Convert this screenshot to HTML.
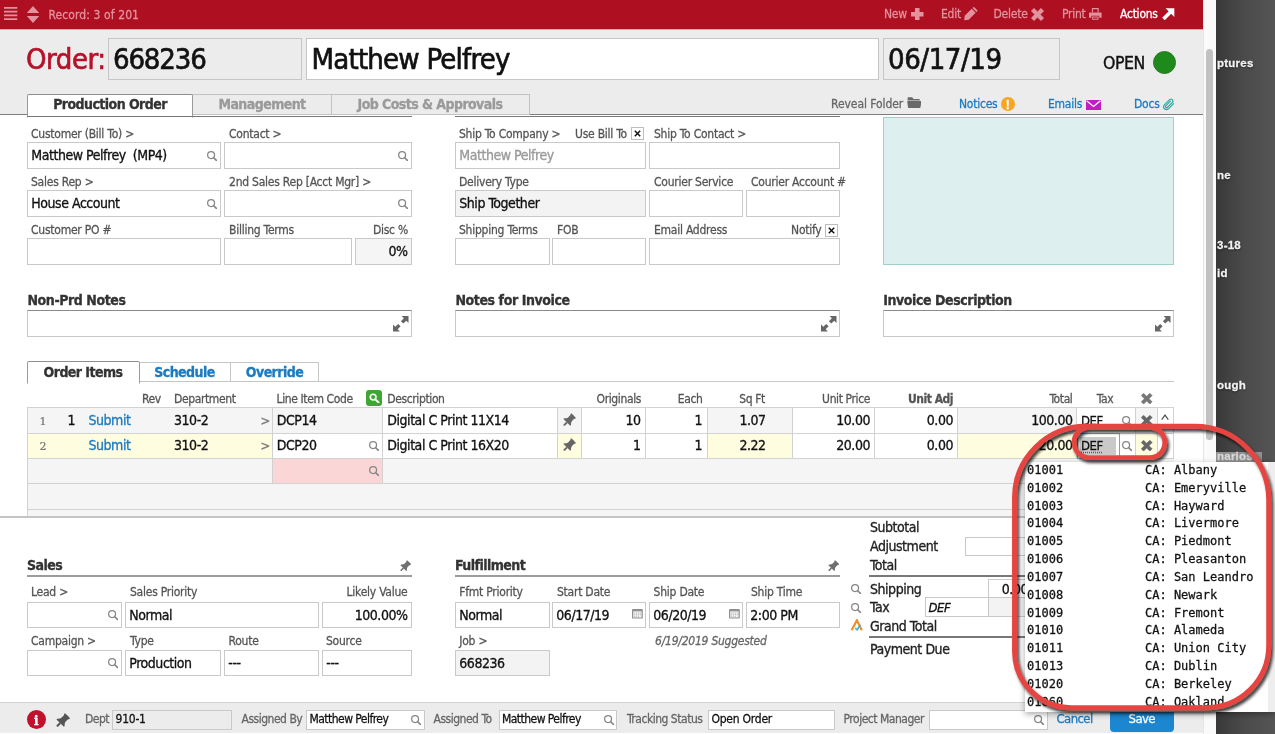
<!DOCTYPE html>
<html><head><meta charset="utf-8"><title>Order 668236</title>
<style>
html,body{margin:0;padding:0;background:#fff;}
body{width:1275px;height:734px;position:relative;overflow:hidden;font-family:"DejaVu Sans Condensed","Liberation Sans","DejaVu Sans",sans-serif;letter-spacing:-0.028em;}
.t{position:absolute;line-height:1;white-space:nowrap;-webkit-text-stroke:0.022em currentColor;}
.b{position:absolute;border:1px solid #c9c9c9;}
.r{position:absolute;}
.i{position:absolute;display:block;}
</style></head><body>
<div class="r" style="left:0px;top:0px;width:1203px;height:734px;background:#fff;"></div>
<div class="r" style="left:0px;top:0px;width:1203px;height:29px;background:#ae1022;"></div>
<svg class="i" style="left:4px;top:7px;" width="14" height="14" viewBox="0 0 14 14"><path d="M0 0.9H13.3M0 4.65H13.3M0 8.4H13.3M0 12.15H13.3" stroke="#e3939e" stroke-width="1.8"/></svg>
<svg class="i" style="left:26px;top:6px;" width="14" height="17" viewBox="0 0 14 17"><path d="M7 0 L13.2 7 H0.8 Z M7 17 L13.2 10 H0.8 Z" fill="#e3939e"/></svg>
<div class="t" style="left:48.5px;top:9px;font-size:12px;color:#e3939e;letter-spacing:0.008em;">Record: 3 of 201</div>
<div class="t" style="left:884px;top:8px;font-size:12px;color:#e3939e;letter-spacing:-0.02em;">New</div>
<svg class="i" style="left:911px;top:7.5px;" width="12.5" height="12.5" viewBox="0 0 12 12"><path d="M3.8 0H8.2V3.8H12V8.2H8.2V12H3.8V8.2H0V3.8H3.8Z" fill="#e3939e"/></svg>
<div class="t" style="left:941px;top:8px;font-size:12px;color:#e3939e;letter-spacing:-0.02em;">Edit</div>
<svg class="i" style="left:964px;top:7px;" width="13.5" height="13.5" viewBox="0 0 13 13"><path d="M0.2 12.8 L0.7 8.5 L7.4 1.8 L11.2 5.6 L4.5 12.3 Z M8.2 1 L9 0.2 Q9.6 -0.2 10.2 0.4 L12.6 2.8 Q13.2 3.4 12.8 4 L12 4.8 Z" fill="#e3939e"/></svg>
<div class="t" style="left:993.5px;top:8px;font-size:12px;color:#e3939e;letter-spacing:-0.02em;">Delete</div>
<svg class="i" style="left:1030.5px;top:7.5px;" width="13" height="13" viewBox="0 0 12 12"><path d="M2.8 0.2 L6 3.4 L9.2 0.2 L11.8 2.8 L8.6 6 L11.8 9.2 L9.2 11.8 L6 8.6 L2.8 11.8 L0.2 9.2 L3.4 6 L0.2 2.8 Z" fill="#e3939e" stroke="#e3939e" stroke-width="0.4" stroke-linejoin="round"/></svg>
<div class="t" style="left:1062px;top:8px;font-size:12px;color:#e3939e;letter-spacing:-0.02em;">Print</div>
<svg class="i" style="left:1089.3px;top:7.8px;" width="12.6" height="11.8" viewBox="0 0 13 12"><g fill="#e3939e"><path d="M3 0H10V4.2H8.8V1.2H4.2V4.2H3Z"/><path d="M0.6 4.6H12.4Q13 4.6 13 5.2V10H10.6V8H2.4V10H0V5.2Q0 4.6 0.6 4.6Z"/><path d="M3.2 8.8H9.8V12H3.2Z M4.2 9.8V11H8.8V9.8Z" fill-rule="evenodd"/></g></svg>
<div class="t" style="left:1120px;top:8px;font-size:12px;color:#fff;letter-spacing:-0.02em;">Actions</div>
<svg class="i" style="left:1162px;top:7.5px;" width="12.5" height="12.5" viewBox="0 0 12 12"><g fill="#fff"><path d="M3.4 0.2 H11.8 V8.6 Z"/><path d="M7.4 2.2 L9.8 4.6 L2.6 11.8 L0.2 9.4 Z"/></g></svg>
<div class="r" style="left:0px;top:29px;width:1203px;height:85px;background:#ececec;"></div>
<div class="r" style="left:0px;top:29px;width:1203px;height:1px;background:#dfa3aa;"></div>
<div class="r" style="left:0px;top:114px;width:1203px;height:1px;background:#7c7c7c;"></div>
<div class="t" style="left:26px;top:45px;font-size:29px;color:#b5122a;">Order:</div>
<div class="b" style="left:108px;top:38px;width:192px;height:40px;background:#ececec;border-color:#c6c6c6;"></div>
<div class="t" style="left:113px;top:45px;font-size:29px;color:#111;letter-spacing:-0.04em;">668236</div>
<div class="b" style="left:306px;top:38px;width:571px;height:40px;background:#fff;border-color:#c6c6c6;"></div>
<div class="t" style="left:311.5px;top:45px;font-size:29px;color:#111;letter-spacing:-0.027em;">Matthew Pelfrey</div>
<div class="b" style="left:883px;top:38px;width:175px;height:40px;background:#ececec;border-color:#c6c6c6;"></div>
<div class="t" style="left:888px;top:45px;font-size:29px;color:#111;">06/17/19</div>
<div class="t" style="left:1103px;top:55px;font-size:17.5px;color:#111;">OPEN</div>
<div class="r" style="left:1153px;top:51px;width:21px;height:21px;border-radius:50%;background:#1f8a1c;border:1px solid #2a7a27"></div>
<div class="b" style="left:192px;top:94px;width:138px;height:19px;background:#ececec;border-color:#c2c2c2;"></div>
<div class="b" style="left:331px;top:94px;width:197px;height:19px;background:#ececec;border-color:#c2c2c2;"></div>
<div class="b" style="left:27px;top:94px;width:164px;height:22px;background:#fff;border-color:#8e8e8e #9a9a9a #fff #9a9a9a;border-radius:2px 2px 0 0"></div>
<div class="t" style="left:-40px;width:300px;text-align:center;top:97px;font-size:14px;color:#333;font-weight:bold;letter-spacing:-0.04em;">Production Order</div>
<div class="t" style="left:112px;width:300px;text-align:center;top:97px;font-size:14px;color:#9a9a9a;font-weight:bold;letter-spacing:-0.04em;">Management</div>
<div class="t" style="left:280px;width:300px;text-align:center;top:97px;font-size:14px;color:#9a9a9a;font-weight:bold;letter-spacing:-0.04em;">Job Costs &amp; Approvals</div>
<div class="t" style="left:831px;top:98px;font-size:12px;color:#666;letter-spacing:-0.005em;">Reveal Folder</div>
<svg class="i" style="left:906.6px;top:97.3px;" width="14.8" height="11.2" viewBox="0 0 14.8 11.2"><g fill="#6a6a6a"><path d="M0.6 0.9 Q0.6 0.3 1.2 0.3 H5.2 L6.6 1.9 H12.2 Q12.8 1.9 12.8 2.5 V3.6 H0.6 Z"/><path d="M0.2 4.1 H14.6 L13.4 10.4 Q13.3 11 12.7 11 H1.7 Q1.1 11 1 10.4 Z"/></g></svg>
<div class="t" style="left:959px;top:98px;font-size:12px;color:#1a7bc2;letter-spacing:-0.02em;">Notices</div>
<div class="r" style="left:1000.5px;top:97px;width:14px;height:14px;border-radius:50%;background:#f5a623"></div>
<div class="t" style="left:857.5px;width:300px;text-align:center;top:99px;font-size:12px;color:#fff;font-weight:bold;font-family:'Liberation Sans',sans-serif;">!</div>
<div class="t" style="left:1048px;top:98px;font-size:12px;color:#1a7bc2;letter-spacing:-0.02em;">Emails</div>
<svg class="i" style="left:1085.5px;top:99.5px;" width="15" height="10.5" viewBox="0 0 15 10.5"><rect width="15" height="10.5" fill="#c51bc5"/><path d="M0.6 0.8 L7.5 6.4 L14.4 0.8" fill="none" stroke="#fff" stroke-width="1.3"/></svg>
<div class="t" style="left:1134px;top:98px;font-size:12px;color:#1a7bc2;letter-spacing:-0.02em;">Docs</div>
<svg class="i" style="left:1162px;top:97.5px;" width="13" height="13" viewBox="0 0 13 13"><path d="M11.6 5.6 L6.4 10.8 Q4.4 12.6 2.4 10.8 Q0.6 8.8 2.4 6.8 L7.6 1.6 Q9 0.4 10.4 1.6 Q11.6 3 10.4 4.4 L5.4 9.4 Q4.6 10 3.8 9.4 Q3.2 8.6 3.8 7.8 L8.4 3.2" fill="none" stroke="#2aa9a0" stroke-width="1.2" stroke-linecap="round"/></svg>
<div class="r" style="left:27px;top:116px;width:385px;height:1px;background:#777;"></div>
<div class="r" style="left:455px;top:116px;width:385px;height:1px;background:#777;"></div>
<div class="t" style="left:31px;top:128px;font-size:12px;color:#555;letter-spacing:-0.02em;">Customer (Bill To) &gt;</div>
<div class="t" style="left:229px;top:128px;font-size:12px;color:#555;letter-spacing:-0.02em;">Contact &gt;</div>
<div class="t" style="left:459px;top:128px;font-size:12px;color:#555;letter-spacing:-0.02em;">Ship To Company &gt;</div>
<div class="t" style="left:575px;top:128px;font-size:12px;color:#555;letter-spacing:-0.02em;">Use Bill To</div>
<div class="b" style="left:631px;top:127px;width:10.5px;height:10.5px;background:#fff;border-color:#bdbdbd;"></div>
<svg class="i" style="left:633.5px;top:129.5px;" width="7" height="7" viewBox="0 0 7 7"><path d="M0.8 0.8 L6.2 6.2 M6.2 0.8 L0.8 6.2" stroke="#111" stroke-width="1.5"/></svg>
<div class="t" style="left:654px;top:128px;font-size:12px;color:#555;letter-spacing:-0.02em;">Ship To Contact &gt;</div>
<div class="b" style="left:27px;top:142px;width:192px;height:25px;background:#fff;border-color:#c9c9c9;"></div>
<div class="t" style="left:31.3px;top:148px;font-size:14px;color:#111;letter-spacing:-0.033em;white-space:pre;">Matthew Pelfrey  (MP4)</div>
<svg class="i" style="left:207.0px;top:150.70000000000002px;" width="10.4" height="10.4" viewBox="0 0 10.4 10.4"><circle cx="4.1" cy="4.1" r="3.45" fill="none" stroke="#858585" stroke-width="1.25"/><path d="M6.7 6.7 L9.4 9.4" stroke="#858585" stroke-width="1.6" stroke-linecap="round"/></svg>
<div class="b" style="left:224px;top:142px;width:186px;height:25px;background:#fff;border-color:#c9c9c9;"></div>
<svg class="i" style="left:398.0px;top:150.70000000000002px;" width="10.4" height="10.4" viewBox="0 0 10.4 10.4"><circle cx="4.1" cy="4.1" r="3.45" fill="none" stroke="#858585" stroke-width="1.25"/><path d="M6.7 6.7 L9.4 9.4" stroke="#858585" stroke-width="1.6" stroke-linecap="round"/></svg>
<div class="b" style="left:455px;top:142px;width:189px;height:25px;background:#fff;border-color:#c9c9c9;"></div>
<div class="t" style="left:459.3px;top:148px;font-size:14px;color:#9a9a9a;letter-spacing:-0.033em;white-space:pre;">Matthew Pelfrey</div>
<div class="b" style="left:649px;top:142px;width:189px;height:25px;background:#fff;border-color:#c9c9c9;"></div>
<div class="t" style="left:31px;top:176px;font-size:12px;color:#555;letter-spacing:-0.02em;">Sales Rep &gt;</div>
<div class="t" style="left:229px;top:176px;font-size:12px;color:#555;letter-spacing:-0.02em;">2nd Sales Rep [Acct Mgr] &gt;</div>
<div class="t" style="left:459px;top:176px;font-size:12px;color:#555;letter-spacing:-0.02em;">Delivery Type</div>
<div class="t" style="left:654px;top:176px;font-size:12px;color:#555;letter-spacing:-0.02em;">Courier Service</div>
<div class="t" style="left:751px;top:176px;font-size:12px;color:#555;letter-spacing:-0.02em;">Courier Account #</div>
<div class="b" style="left:27px;top:190px;width:192px;height:25px;background:#fff;border-color:#c9c9c9;"></div>
<div class="t" style="left:31.3px;top:196px;font-size:14px;color:#111;letter-spacing:-0.033em;white-space:pre;">House Account</div>
<svg class="i" style="left:207.0px;top:198.70000000000002px;" width="10.4" height="10.4" viewBox="0 0 10.4 10.4"><circle cx="4.1" cy="4.1" r="3.45" fill="none" stroke="#858585" stroke-width="1.25"/><path d="M6.7 6.7 L9.4 9.4" stroke="#858585" stroke-width="1.6" stroke-linecap="round"/></svg>
<div class="b" style="left:224px;top:190px;width:186px;height:25px;background:#fff;border-color:#c9c9c9;"></div>
<svg class="i" style="left:398.0px;top:198.70000000000002px;" width="10.4" height="10.4" viewBox="0 0 10.4 10.4"><circle cx="4.1" cy="4.1" r="3.45" fill="none" stroke="#858585" stroke-width="1.25"/><path d="M6.7 6.7 L9.4 9.4" stroke="#858585" stroke-width="1.6" stroke-linecap="round"/></svg>
<div class="b" style="left:455px;top:190px;width:189px;height:25px;background:#f3f3f3;border-color:#c9c9c9;"></div>
<div class="t" style="left:459.3px;top:196px;font-size:14px;color:#111;letter-spacing:-0.033em;white-space:pre;">Ship Together</div>
<div class="b" style="left:649px;top:190px;width:92px;height:25px;background:#fff;border-color:#c9c9c9;"></div>
<div class="b" style="left:746px;top:190px;width:92px;height:25px;background:#fff;border-color:#c9c9c9;"></div>
<div class="t" style="left:31px;top:224px;font-size:12px;color:#555;letter-spacing:-0.02em;">Customer PO #</div>
<div class="t" style="left:229px;top:224px;font-size:12px;color:#555;letter-spacing:-0.02em;">Billing Terms</div>
<div class="t" style="right:867px;top:224px;font-size:12px;color:#555;letter-spacing:-0.02em;">Disc %</div>
<div class="t" style="left:459px;top:224px;font-size:12px;color:#555;letter-spacing:-0.02em;">Shipping Terms</div>
<div class="t" style="left:557px;top:224px;font-size:12px;color:#555;letter-spacing:-0.02em;">FOB</div>
<div class="t" style="left:654px;top:224px;font-size:12px;color:#555;letter-spacing:-0.02em;">Email Address</div>
<div class="t" style="right:453.5px;top:224px;font-size:12px;color:#555;letter-spacing:-0.02em;">Notify</div>
<div class="b" style="left:825px;top:224px;width:10.5px;height:10.5px;background:#fff;border-color:#bdbdbd;"></div>
<svg class="i" style="left:827.5px;top:226.5px;" width="7" height="7" viewBox="0 0 7 7"><path d="M0.8 0.8 L6.2 6.2 M6.2 0.8 L0.8 6.2" stroke="#111" stroke-width="1.5"/></svg>
<div class="b" style="left:27px;top:238px;width:192px;height:25px;background:#fff;border-color:#c9c9c9;"></div>
<div class="b" style="left:224px;top:238px;width:126px;height:25px;background:#fff;border-color:#c9c9c9;"></div>
<div class="b" style="left:355px;top:238px;width:55px;height:25px;background:#f5f5f5;border-color:#c9c9c9;"></div>
<div class="t" style="right:867.5px;top:244px;font-size:14px;color:#111;letter-spacing:-0.033em;">0%</div>
<div class="b" style="left:455px;top:238px;width:92.5px;height:25px;background:#fff;border-color:#c9c9c9;"></div>
<div class="b" style="left:552px;top:238px;width:92px;height:25px;background:#fff;border-color:#c9c9c9;"></div>
<div class="b" style="left:649px;top:238px;width:189px;height:25px;background:#fff;border-color:#c9c9c9;"></div>
<div class="b" style="left:882.5px;top:116.5px;width:289.79999999999995px;height:146.10000000000002px;background:#ddefef;border-color:#9fd1cb;"></div>
<div class="t" style="left:27.5px;top:293px;font-size:14px;color:#333;font-weight:bold;letter-spacing:-0.03em;">Non-Prd Notes</div>
<div class="b" style="left:26.8px;top:309.7px;width:383.2px;height:25px;background:#fff;border-color:#8a8a8a #c9c9c9 #c9c9c9 #c9c9c9"></div>
<svg class="i" style="left:393.1px;top:316.2px;" width="15.5" height="15.5" viewBox="0 0 15.5 15.5"><g fill="#666"><path d="M8.6 0 H15.5 V6.9 L13.25 4.65 L10.3 7.6 L7.9 5.2 L10.85 2.25 Z"/><path d="M6.9 15.5 H0 V8.6 L2.25 10.85 L5.2 7.9 L7.6 10.3 L4.65 13.25 Z"/></g></svg>
<div class="t" style="left:455.5px;top:293px;font-size:14px;color:#333;font-weight:bold;letter-spacing:-0.03em;">Notes for Invoice</div>
<div class="b" style="left:454.8px;top:309.7px;width:383.2px;height:25px;background:#fff;border-color:#8a8a8a #c9c9c9 #c9c9c9 #c9c9c9"></div>
<svg class="i" style="left:821.1px;top:316.2px;" width="15.5" height="15.5" viewBox="0 0 15.5 15.5"><g fill="#666"><path d="M8.6 0 H15.5 V6.9 L13.25 4.65 L10.3 7.6 L7.9 5.2 L10.85 2.25 Z"/><path d="M6.9 15.5 H0 V8.6 L2.25 10.85 L5.2 7.9 L7.6 10.3 L4.65 13.25 Z"/></g></svg>
<div class="t" style="left:883.2px;top:293px;font-size:14px;color:#333;font-weight:bold;letter-spacing:-0.03em;">Invoice Description</div>
<div class="b" style="left:882.5px;top:309.7px;width:289.79999999999995px;height:25px;background:#fff;border-color:#8a8a8a #c9c9c9 #c9c9c9 #c9c9c9"></div>
<svg class="i" style="left:1155.3999999999999px;top:316.2px;" width="15.5" height="15.5" viewBox="0 0 15.5 15.5"><g fill="#666"><path d="M8.6 0 H15.5 V6.9 L13.25 4.65 L10.3 7.6 L7.9 5.2 L10.85 2.25 Z"/><path d="M6.9 15.5 H0 V8.6 L2.25 10.85 L5.2 7.9 L7.6 10.3 L4.65 13.25 Z"/></g></svg>
<div class="r" style="left:27px;top:381px;width:1147px;height:1px;background:#c9c9c9;"></div>
<div class="b" style="left:139px;top:362px;width:90px;height:18px;background:#fff;border-color:#c6c6c6;"></div>
<div class="b" style="left:230px;top:362px;width:87px;height:18px;background:#fff;border-color:#c6c6c6;"></div>
<div class="b" style="left:27px;top:361px;width:111px;height:21px;background:#fff;border-color:#8e8e8e #9a9a9a #fff #9a9a9a;border-radius:2px 2px 0 0"></div>
<div class="t" style="left:-67px;width:300px;text-align:center;top:365px;font-size:14px;color:#333;font-weight:bold;letter-spacing:-0.04em;">Order Items</div>
<div class="t" style="left:34.5px;width:300px;text-align:center;top:365px;font-size:14px;color:#1a7bc2;font-weight:bold;letter-spacing:-0.04em;">Schedule</div>
<div class="t" style="left:124.5px;width:300px;text-align:center;top:365px;font-size:14px;color:#1a7bc2;font-weight:bold;letter-spacing:-0.04em;">Override</div>
<div class="t" style="left:142px;top:393px;font-size:12px;color:#555;letter-spacing:-0.032em;">Rev</div>
<div class="t" style="left:174px;top:393px;font-size:12px;color:#555;letter-spacing:-0.032em;">Department</div>
<div class="t" style="left:276.5px;top:393px;font-size:12px;color:#555;letter-spacing:-0.032em;">Line Item Code</div>
<div class="r" style="left:366px;top:389.5px;width:16px;height:16px;border-radius:3px;background:#3fa535"></div>
<svg class="i" style="left:369px;top:392.5px;" width="10.5" height="10.5" viewBox="0 0 11 11"><circle cx="4.3" cy="4.3" r="3" fill="none" stroke="#fff" stroke-width="1.7"/><path d="M6.6 6.6 L10 10" stroke="#fff" stroke-width="2" stroke-linecap="round"/></svg>
<div class="t" style="left:387.3px;top:393px;font-size:12px;color:#555;letter-spacing:-0.032em;">Description</div>
<div class="t" style="right:634px;top:393px;font-size:12px;color:#555;letter-spacing:-0.032em;">Originals</div>
<div class="t" style="right:572.5px;top:393px;font-size:12px;color:#555;letter-spacing:-0.032em;">Each</div>
<div class="t" style="left:602px;width:300px;text-align:center;top:393px;font-size:12px;color:#555;letter-spacing:-0.032em;">Sq Ft</div>
<div class="t" style="right:405px;top:393px;font-size:12px;color:#555;letter-spacing:-0.032em;">Unit Price</div>
<div class="t" style="right:322px;top:393px;font-size:12px;color:#555;font-weight:bold;letter-spacing:-0.04em;">Unit Adj</div>
<div class="t" style="right:202.5px;top:393px;font-size:12px;color:#555;letter-spacing:-0.032em;">Total</div>
<div class="t" style="left:955px;width:300px;text-align:center;top:393px;font-size:12px;color:#555;letter-spacing:-0.032em;">Tax</div>
<svg class="i" style="left:1141.2px;top:392.5px;" width="11.4" height="11.4" viewBox="0 0 12 12"><path d="M2.7 0.2 L6 3.5 L9.3 0.2 L11.8 2.7 L8.5 6 L11.8 9.3 L9.3 11.8 L6 8.5 L2.7 11.8 L0.2 9.3 L3.5 6 L0.2 2.7 Z" fill="#777" stroke="#777" stroke-width="0.5" stroke-linejoin="round"/></svg>
<div class="r" style="left:27px;top:408px;width:1147px;height:108px;background:#f5f5f5;"></div>
<div class="r" style="left:27px;top:433px;width:1147px;height:25px;background:#fffde0;"></div>
<div class="r" style="left:382px;top:408px;width:175.5px;height:25px;background:#fff;"></div>
<div class="r" style="left:581px;top:408px;width:126.5px;height:25px;background:#fff;"></div>
<div class="r" style="left:792.5px;top:408px;width:165.0px;height:25px;background:#fff;"></div>
<div class="r" style="left:1076.5px;top:408px;width:58.799999999999955px;height:25px;background:#fff;"></div>
<div class="r" style="left:1157.2px;top:408px;width:16.799999999999955px;height:25px;background:#fff;"></div>
<div class="r" style="left:272.5px;top:433px;width:285.0px;height:25px;background:#fff;"></div>
<div class="r" style="left:581px;top:433px;width:126.5px;height:25px;background:#fff;"></div>
<div class="r" style="left:792.5px;top:433px;width:165.0px;height:25px;background:#fff;"></div>
<div class="r" style="left:1076.5px;top:433px;width:58.799999999999955px;height:25px;background:#fff;"></div>
<div class="r" style="left:1157.2px;top:433px;width:16.799999999999955px;height:25px;background:#fff;"></div>
<div class="r" style="left:272.5px;top:458px;width:109.5px;height:25.5px;background:#fbd6d6;"></div>
<div class="r" style="left:27px;top:407.3px;width:1147px;height:1.0px;background:#d2d2d2;"></div>
<div class="r" style="left:27px;top:432.5px;width:1147px;height:1.0px;background:#d2d2d2;"></div>
<div class="r" style="left:27px;top:457.8px;width:1147px;height:1.0px;background:#d2d2d2;"></div>
<div class="r" style="left:27px;top:483.0px;width:1147px;height:1.0px;background:#d2d2d2;"></div>
<div class="r" style="left:27px;top:508.5px;width:1147px;height:1.0px;background:#d2d2d2;"></div>
<div class="r" style="left:272.0px;top:408px;width:1.0px;height:50px;background:#d2d2d2;"></div>
<div class="r" style="left:381.5px;top:408px;width:1.0px;height:50px;background:#d2d2d2;"></div>
<div class="r" style="left:557.0px;top:408px;width:1.0px;height:50px;background:#d2d2d2;"></div>
<div class="r" style="left:580.5px;top:408px;width:1.0px;height:50px;background:#d2d2d2;"></div>
<div class="r" style="left:644.5px;top:408px;width:1.0px;height:50px;background:#d2d2d2;"></div>
<div class="r" style="left:707.0px;top:408px;width:1.0px;height:50px;background:#d2d2d2;"></div>
<div class="r" style="left:792.0px;top:408px;width:1.0px;height:50px;background:#d2d2d2;"></div>
<div class="r" style="left:874.0px;top:408px;width:1.0px;height:50px;background:#d2d2d2;"></div>
<div class="r" style="left:957.0px;top:408px;width:1.0px;height:50px;background:#d2d2d2;"></div>
<div class="r" style="left:1076.0px;top:408px;width:1.0px;height:50px;background:#d2d2d2;"></div>
<div class="r" style="left:1134.8px;top:408px;width:1.0px;height:50px;background:#d2d2d2;"></div>
<div class="r" style="left:1156.7px;top:408px;width:1.0px;height:50px;background:#d2d2d2;"></div>
<div class="r" style="left:1173.3px;top:408px;width:1.0px;height:50px;background:#d2d2d2;"></div>
<div class="r" style="left:272.0px;top:458px;width:1.0px;height:25.5px;background:#d2d2d2;"></div>
<div class="r" style="left:381.5px;top:458px;width:1.0px;height:25.5px;background:#d2d2d2;"></div>
<div class="r" style="left:27px;top:408px;width:1px;height:108px;background:#d2d2d2;"></div>
<div class="t" style="left:39.5px;top:416px;font-size:11px;color:#777;font-family:'DejaVu Serif','Liberation Serif',serif;">1</div>
<div class="t" style="left:67.5px;top:413px;font-size:14px;color:#111;letter-spacing:-0.033em;">1</div>
<div class="t" style="left:88.5px;top:413px;font-size:14px;color:#1a7bc2;letter-spacing:-0.033em;">Submit</div>
<div class="t" style="left:174px;top:413px;font-size:14px;color:#111;letter-spacing:-0.033em;">310-2</div>
<div class="t" style="left:260.5px;top:414px;font-size:13px;color:#777;">&gt;</div>
<div class="t" style="left:276.8px;top:413px;font-size:14px;color:#111;letter-spacing:-0.033em;">DCP14</div>
<div class="t" style="left:387.3px;top:413px;font-size:14px;color:#111;letter-spacing:-0.033em;">Digital C Print 11X14</div>
<svg class="i" style="left:563.3px;top:412.8px;" width="13" height="13" viewBox="0 0 13 13"><g fill="#666" transform="translate(10.45 2.75) rotate(44.6)"><path d="M-3.3 -0.2 Q0 -0.6 3.3 -0.2 L3.5 0.5 Q2.8 1.2 2.65 2 L2.65 5 Q3 7 4.8 8.3 L4.8 9.4 L-4.8 9.4 L-4.8 8.3 Q-3 7 -2.65 5 L-2.65 2 Q-2.8 1.2 -3.5 0.5 Z"/><path d="M-0.95 9.2 H0.95 V13.2 Q0 14.6 -0.95 13.2 Z"/></g></svg>
<div class="t" style="right:634.5px;top:413px;font-size:14px;color:#111;letter-spacing:-0.033em;">10</div>
<div class="t" style="right:573px;top:413px;font-size:14px;color:#111;letter-spacing:-0.033em;">1</div>
<div class="t" style="left:602.5px;width:300px;text-align:center;top:413px;font-size:14px;color:#111;letter-spacing:-0.033em;">1.07</div>
<div class="t" style="right:405px;top:413px;font-size:14px;color:#111;letter-spacing:-0.033em;">10.00</div>
<div class="t" style="right:322px;top:413px;font-size:14px;color:#111;letter-spacing:-0.033em;">0.00</div>
<div class="t" style="right:202.5px;top:413px;font-size:14px;color:#111;letter-spacing:-0.033em;">100.00</div>
<div class="t" style="left:39.5px;top:441px;font-size:11px;color:#777;font-family:'DejaVu Serif','Liberation Serif',serif;">2</div>
<div class="t" style="left:88.5px;top:438px;font-size:14px;color:#1a7bc2;letter-spacing:-0.033em;">Submit</div>
<div class="t" style="left:174px;top:438px;font-size:14px;color:#111;letter-spacing:-0.033em;">310-2</div>
<div class="t" style="left:260.5px;top:439px;font-size:13px;color:#777;">&gt;</div>
<div class="t" style="left:276.8px;top:438px;font-size:14px;color:#111;letter-spacing:-0.033em;">DCP20</div>
<svg class="i" style="left:368.8px;top:440.6px;" width="10.4" height="10.4" viewBox="0 0 10.4 10.4"><circle cx="4.1" cy="4.1" r="3.45" fill="none" stroke="#858585" stroke-width="1.25"/><path d="M6.7 6.7 L9.4 9.4" stroke="#858585" stroke-width="1.6" stroke-linecap="round"/></svg>
<div class="t" style="left:387.3px;top:438px;font-size:14px;color:#111;letter-spacing:-0.033em;">Digital C Print 16X20</div>
<svg class="i" style="left:563.3px;top:438.1px;" width="13" height="13" viewBox="0 0 13 13"><g fill="#666" transform="translate(10.45 2.75) rotate(44.6)"><path d="M-3.3 -0.2 Q0 -0.6 3.3 -0.2 L3.5 0.5 Q2.8 1.2 2.65 2 L2.65 5 Q3 7 4.8 8.3 L4.8 9.4 L-4.8 9.4 L-4.8 8.3 Q-3 7 -2.65 5 L-2.65 2 Q-2.8 1.2 -3.5 0.5 Z"/><path d="M-0.95 9.2 H0.95 V13.2 Q0 14.6 -0.95 13.2 Z"/></g></svg>
<div class="t" style="right:634.5px;top:438px;font-size:14px;color:#111;letter-spacing:-0.033em;">1</div>
<div class="t" style="right:573px;top:438px;font-size:14px;color:#111;letter-spacing:-0.033em;">1</div>
<div class="t" style="left:602.5px;width:300px;text-align:center;top:438px;font-size:14px;color:#111;letter-spacing:-0.033em;">2.22</div>
<div class="t" style="right:405px;top:438px;font-size:14px;color:#111;letter-spacing:-0.033em;">20.00</div>
<div class="t" style="right:322px;top:438px;font-size:14px;color:#111;letter-spacing:-0.033em;">0.00</div>
<div class="t" style="right:202.5px;top:438px;font-size:14px;color:#111;letter-spacing:-0.033em;">20.00</div>
<svg class="i" style="left:368.8px;top:465.8px;" width="10.4" height="10.4" viewBox="0 0 10.4 10.4"><circle cx="4.1" cy="4.1" r="3.45" fill="none" stroke="#858585" stroke-width="1.25"/><path d="M6.7 6.7 L9.4 9.4" stroke="#858585" stroke-width="1.6" stroke-linecap="round"/></svg>
<div class="t" style="left:1081px;top:414px;font-size:13px;color:#111;">DEF</div>
<svg class="i" style="left:1121.8px;top:415.8px;" width="10.4" height="10.4" viewBox="0 0 10.4 10.4"><circle cx="4.1" cy="4.1" r="3.45" fill="none" stroke="#858585" stroke-width="1.25"/><path d="M6.7 6.7 L9.4 9.4" stroke="#858585" stroke-width="1.6" stroke-linecap="round"/></svg>
<svg class="i" style="left:1141.2px;top:415.1px;" width="11.4" height="11.4" viewBox="0 0 12 12"><path d="M2.7 0.2 L6 3.5 L9.3 0.2 L11.8 2.7 L8.5 6 L11.8 9.3 L9.3 11.8 L6 8.5 L2.7 11.8 L0.2 9.3 L3.5 6 L0.2 2.7 Z" fill="#666" stroke="#666" stroke-width="0.5" stroke-linejoin="round"/></svg>
<svg class="i" style="left:1161px;top:413.5px;" width="8" height="6.5" viewBox="0 0 8 6.5"><path d="M0.7 5.6 L4 1.1 L7.3 5.6" fill="none" stroke="#555" stroke-width="1.25"/></svg>
<div class="r" style="left:1076.5px;top:433px;width:43.0px;height:25.5px;background:#fff;border:1.6px solid #4db0ee;box-sizing:border-box;"></div>
<div class="r" style="left:1080px;top:437px;width:36px;height:18px;background:#c9c9c9;"></div>
<div class="t" style="left:1081px;top:439px;font-size:13px;color:#111;text-decoration:underline dotted #e0202a;text-underline-offset:2px;">DEF</div>
<svg class="i" style="left:1121.8px;top:440.8px;" width="10.4" height="10.4" viewBox="0 0 10.4 10.4"><circle cx="4.1" cy="4.1" r="3.45" fill="none" stroke="#858585" stroke-width="1.25"/><path d="M6.7 6.7 L9.4 9.4" stroke="#858585" stroke-width="1.6" stroke-linecap="round"/></svg>
<svg class="i" style="left:1141.2px;top:440.1px;" width="11.4" height="11.4" viewBox="0 0 12 12"><path d="M2.7 0.2 L6 3.5 L9.3 0.2 L11.8 2.7 L8.5 6 L11.8 9.3 L9.3 11.8 L6 8.5 L2.7 11.8 L0.2 9.3 L3.5 6 L0.2 2.7 Z" fill="#666" stroke="#666" stroke-width="0.5" stroke-linejoin="round"/></svg>
<div class="r" style="left:0px;top:516px;width:1203px;height:1.5px;background:#c4c4c4;"></div>
<div class="t" style="left:27px;top:558px;font-size:14px;color:#333;font-weight:bold;letter-spacing:-0.04em;">Sales</div>
<div class="r" style="left:27px;top:575px;width:385px;height:2px;background:#9c9c9c;"></div>
<svg class="i" style="left:400px;top:559.5px;" width="11.2" height="11.2" viewBox="0 0 13 13"><g fill="#707070" transform="translate(10.45 2.75) rotate(44.6)"><path d="M-3.3 -0.2 Q0 -0.6 3.3 -0.2 L3.5 0.5 Q2.8 1.2 2.65 2 L2.65 5 Q3 7 4.8 8.3 L4.8 9.4 L-4.8 9.4 L-4.8 8.3 Q-3 7 -2.65 5 L-2.65 2 Q-2.8 1.2 -3.5 0.5 Z"/><path d="M-0.95 9.2 H0.95 V13.2 Q0 14.6 -0.95 13.2 Z"/></g></svg>
<div class="t" style="left:31px;top:586px;font-size:12px;color:#555;letter-spacing:-0.02em;">Lead &gt;</div>
<div class="t" style="left:130px;top:586px;font-size:12px;color:#555;letter-spacing:-0.02em;">Sales Priority</div>
<div class="t" style="right:867.5px;top:586px;font-size:12px;color:#555;letter-spacing:-0.02em;">Likely Value</div>
<div class="b" style="left:27px;top:602px;width:93px;height:24px;background:#fff;border-color:#c9c9c9;"></div>
<svg class="i" style="left:108.0px;top:610.1999999999999px;" width="10.4" height="10.4" viewBox="0 0 10.4 10.4"><circle cx="4.1" cy="4.1" r="3.45" fill="none" stroke="#858585" stroke-width="1.25"/><path d="M6.7 6.7 L9.4 9.4" stroke="#858585" stroke-width="1.6" stroke-linecap="round"/></svg>
<div class="b" style="left:125px;top:602px;width:191.5px;height:24px;background:#fff;border-color:#c9c9c9;"></div>
<div class="t" style="left:129.3px;top:608px;font-size:14px;color:#111;letter-spacing:-0.033em;white-space:pre;">Normal</div>
<div class="b" style="left:322px;top:602px;width:88px;height:24px;background:#fff;border-color:#c9c9c9;"></div>
<div class="t" style="right:867.5px;top:608px;font-size:14px;color:#111;letter-spacing:-0.033em;">100.00%</div>
<div class="t" style="left:31px;top:635px;font-size:12px;color:#555;letter-spacing:-0.02em;">Campaign &gt;</div>
<div class="t" style="left:130px;top:635px;font-size:12px;color:#555;letter-spacing:-0.02em;">Type</div>
<div class="t" style="left:228.5px;top:635px;font-size:12px;color:#555;letter-spacing:-0.02em;">Route</div>
<div class="t" style="left:326px;top:635px;font-size:12px;color:#555;letter-spacing:-0.02em;">Source</div>
<div class="b" style="left:27px;top:650px;width:93px;height:24px;background:#fff;border-color:#c9c9c9;"></div>
<svg class="i" style="left:108.0px;top:658.1999999999999px;" width="10.4" height="10.4" viewBox="0 0 10.4 10.4"><circle cx="4.1" cy="4.1" r="3.45" fill="none" stroke="#858585" stroke-width="1.25"/><path d="M6.7 6.7 L9.4 9.4" stroke="#858585" stroke-width="1.6" stroke-linecap="round"/></svg>
<div class="b" style="left:125px;top:650px;width:94px;height:24px;background:#fff;border-color:#c9c9c9;"></div>
<div class="t" style="left:129.3px;top:656px;font-size:14px;color:#111;letter-spacing:-0.033em;white-space:pre;">Production</div>
<div class="b" style="left:224px;top:650px;width:92.5px;height:24px;background:#fff;border-color:#c9c9c9;"></div>
<div class="t" style="left:228.3px;top:656px;font-size:14px;color:#111;letter-spacing:-0.033em;white-space:pre;">---</div>
<div class="b" style="left:322px;top:650px;width:88px;height:24px;background:#fff;border-color:#c9c9c9;"></div>
<div class="t" style="left:326.3px;top:656px;font-size:14px;color:#111;letter-spacing:-0.033em;white-space:pre;">---</div>
<div class="t" style="left:455px;top:558px;font-size:14px;color:#333;font-weight:bold;letter-spacing:-0.04em;">Fulfillment</div>
<div class="r" style="left:455px;top:575px;width:385px;height:2px;background:#9c9c9c;"></div>
<svg class="i" style="left:828.2px;top:559.5px;" width="11.2" height="11.2" viewBox="0 0 13 13"><g fill="#707070" transform="translate(10.45 2.75) rotate(44.6)"><path d="M-3.3 -0.2 Q0 -0.6 3.3 -0.2 L3.5 0.5 Q2.8 1.2 2.65 2 L2.65 5 Q3 7 4.8 8.3 L4.8 9.4 L-4.8 9.4 L-4.8 8.3 Q-3 7 -2.65 5 L-2.65 2 Q-2.8 1.2 -3.5 0.5 Z"/><path d="M-0.95 9.2 H0.95 V13.2 Q0 14.6 -0.95 13.2 Z"/></g></svg>
<div class="t" style="left:459.3px;top:586px;font-size:12px;color:#555;letter-spacing:-0.02em;">Ffmt Priority</div>
<div class="t" style="left:557px;top:586px;font-size:12px;color:#555;letter-spacing:-0.02em;">Start Date</div>
<div class="t" style="left:653.6px;top:586px;font-size:12px;color:#555;letter-spacing:-0.02em;">Ship Date</div>
<div class="t" style="left:751px;top:586px;font-size:12px;color:#555;letter-spacing:-0.02em;">Ship Time</div>
<div class="b" style="left:455px;top:602px;width:92.5px;height:24px;background:#fff;border-color:#c9c9c9;"></div>
<div class="t" style="left:459.3px;top:608px;font-size:14px;color:#111;letter-spacing:-0.033em;white-space:pre;">Normal</div>
<div class="b" style="left:552px;top:602px;width:92px;height:24px;background:#fff;border-color:#c9c9c9;"></div>
<div class="t" style="left:556.3px;top:608px;font-size:14px;color:#111;letter-spacing:-0.033em;white-space:pre;">06/17/19</div>
<svg class="i" style="left:632.1px;top:609.3px;" width="10.8" height="9.6" viewBox="0 0 10.8 9.6"><rect x="0.6" y="0.6" width="9.6" height="8.4" rx="0.6" fill="#f0f0f0" stroke="#909090" stroke-width="1.2"/><rect x="0.6" y="0.6" width="9.6" height="1.7" fill="#909090"/><path d="M2.2 3.9H8.8M2.2 5.6H8.8M2.2 7.3H7" stroke="#aaa" stroke-width="0.8" stroke-dasharray="1 0.9"/></svg>
<div class="b" style="left:649px;top:602px;width:92px;height:24px;background:#fff;border-color:#c9c9c9;"></div>
<div class="t" style="left:653.3px;top:608px;font-size:14px;color:#111;letter-spacing:-0.033em;white-space:pre;">06/20/19</div>
<svg class="i" style="left:728.9px;top:609.3px;" width="10.8" height="9.6" viewBox="0 0 10.8 9.6"><rect x="0.6" y="0.6" width="9.6" height="8.4" rx="0.6" fill="#f0f0f0" stroke="#909090" stroke-width="1.2"/><rect x="0.6" y="0.6" width="9.6" height="1.7" fill="#909090"/><path d="M2.2 3.9H8.8M2.2 5.6H8.8M2.2 7.3H7" stroke="#aaa" stroke-width="0.8" stroke-dasharray="1 0.9"/></svg>
<div class="b" style="left:746px;top:602px;width:92px;height:24px;background:#fff;border-color:#c9c9c9;"></div>
<div class="t" style="left:750.3px;top:608px;font-size:14px;color:#111;letter-spacing:-0.033em;white-space:pre;">2:00 PM</div>
<div class="t" style="left:459.3px;top:635px;font-size:12px;color:#555;letter-spacing:-0.02em;">Job &gt;</div>
<div class="t" style="left:655px;top:635px;font-size:12px;color:#666;font-style:italic;letter-spacing:-0.02em;">6/19/2019 Suggested</div>
<div class="b" style="left:455px;top:650px;width:92.5px;height:24px;background:#f3f3f3;border-color:#c9c9c9;"></div>
<div class="t" style="left:459.3px;top:656px;font-size:14px;color:#111;letter-spacing:-0.033em;white-space:pre;">668236</div>
<div class="t" style="left:870px;top:520px;font-size:14px;color:#222;letter-spacing:-0.033em;">Subtotal</div>
<div class="t" style="left:870px;top:539px;font-size:14px;color:#222;letter-spacing:-0.033em;">Adjustment</div>
<div class="t" style="left:870px;top:558px;font-size:14px;color:#222;letter-spacing:-0.033em;">Total</div>
<div class="b" style="left:965px;top:536.5px;width:93px;height:17.0px;background:#fff;border-color:#c9c9c9;"></div>
<div class="r" style="left:869px;top:575px;width:305px;height:2px;background:#787878;"></div>
<div class="t" style="left:870px;top:582px;font-size:14px;color:#222;letter-spacing:-0.033em;">Shipping</div>
<div class="t" style="left:870px;top:600px;font-size:14px;color:#222;letter-spacing:-0.033em;">Tax</div>
<div class="t" style="left:870px;top:619px;font-size:14px;color:#222;letter-spacing:-0.033em;">Grand Total</div>
<div class="b" style="left:987.5px;top:578.5px;width:110.5px;height:17.5px;background:#fff;border-color:#c9c9c9;"></div>
<div class="t" style="right:247px;top:582px;font-size:14px;color:#111;letter-spacing:-0.033em;">0.00</div>
<div class="b" style="left:925px;top:597px;width:61.5px;height:17.5px;background:#fff;border-color:#c9c9c9;"></div>
<div class="t" style="left:928.5px;top:601px;font-size:13px;color:#111;font-style:italic;">DEF</div>
<div class="b" style="left:987.5px;top:597px;width:110.5px;height:17.5px;background:#f3f3f3;border-color:#c9c9c9;"></div>
<div class="r" style="left:869px;top:636px;width:305px;height:2px;background:#787878;"></div>
<div class="t" style="left:870px;top:642px;font-size:14px;color:#222;letter-spacing:-0.033em;">Payment Due</div>
<svg class="i" style="left:851.1999999999999px;top:583.6999999999999px;" width="10.4" height="10.4" viewBox="0 0 10.4 10.4"><circle cx="4.1" cy="4.1" r="3.45" fill="none" stroke="#858585" stroke-width="1.25"/><path d="M6.7 6.7 L9.4 9.4" stroke="#858585" stroke-width="1.6" stroke-linecap="round"/></svg>
<svg class="i" style="left:851.1999999999999px;top:602.5999999999999px;" width="10.4" height="10.4" viewBox="0 0 10.4 10.4"><circle cx="4.1" cy="4.1" r="3.45" fill="none" stroke="#858585" stroke-width="1.25"/><path d="M6.7 6.7 L9.4 9.4" stroke="#858585" stroke-width="1.6" stroke-linecap="round"/></svg>
<svg class="i" style="left:850px;top:619px;" width="14" height="13" viewBox="0 0 14 13"><path d="M1.6 11.3 L6.9 1.2 L11.8 11.3" fill="none" stroke="#f58a1f" stroke-width="2.1" stroke-linejoin="miter" stroke-linecap="butt"/><path d="M5.2 9.2 L7.2 10.8 L10.4 5.8" fill="none" stroke="#35b9d6" stroke-width="1.7"/></svg>
<div class="r" style="left:0px;top:703px;width:1203px;height:30px;background:#ececec;"></div>
<div class="r" style="left:0px;top:702px;width:1203px;height:1px;background:#d2d2d2;"></div>
<div class="r" style="left:26.5px;top:710px;width:19px;height:19px;border-radius:50%;background:#c0122c"></div>
<div class="t" style="left:-114px;width:300px;text-align:center;top:714px;font-size:13px;color:#fff;font-weight:bold;font-family:'DejaVu Serif','Liberation Serif',serif;">i</div>
<svg class="i" style="left:55.5px;top:713px;" width="14" height="14" viewBox="0 0 13 13"><g fill="#555" transform="translate(10.45 2.75) rotate(44.6)"><path d="M-3.3 -0.2 Q0 -0.6 3.3 -0.2 L3.5 0.5 Q2.8 1.2 2.65 2 L2.65 5 Q3 7 4.8 8.3 L4.8 9.4 L-4.8 9.4 L-4.8 8.3 Q-3 7 -2.65 5 L-2.65 2 Q-2.8 1.2 -3.5 0.5 Z"/><path d="M-0.95 9.2 H0.95 V13.2 Q0 14.6 -0.95 13.2 Z"/></g></svg>
<div class="t" style="left:85px;top:713px;font-size:12px;color:#666;letter-spacing:-0.04em;">Dept</div>
<div class="b" style="left:112px;top:709.5px;width:117.5px;height:18.0px;background:#ececec;border-color:#c9c9c9;"></div>
<div class="t" style="left:115.5px;top:713px;font-size:12px;color:#111;letter-spacing:-0.02em;">910-1</div>
<div class="t" style="left:241.5px;top:713px;font-size:12px;color:#666;letter-spacing:-0.04em;">Assigned By</div>
<div class="b" style="left:305.5px;top:709.5px;width:117.0px;height:18.0px;background:#fff;border-color:#c9c9c9;"></div>
<div class="t" style="left:309.5px;top:713px;font-size:12px;color:#111;letter-spacing:-0.045em;">Matthew Pelfrey</div>
<svg class="i" style="left:410.8px;top:714.8px;" width="10.4" height="10.4" viewBox="0 0 10.4 10.4"><circle cx="4.1" cy="4.1" r="3.45" fill="none" stroke="#858585" stroke-width="1.25"/><path d="M6.7 6.7 L9.4 9.4" stroke="#858585" stroke-width="1.6" stroke-linecap="round"/></svg>
<div class="t" style="left:433.5px;top:713px;font-size:12px;color:#666;letter-spacing:-0.04em;">Assigned To</div>
<div class="b" style="left:498.5px;top:709.5px;width:116.5px;height:18.0px;background:#fff;border-color:#c9c9c9;"></div>
<div class="t" style="left:502px;top:713px;font-size:12px;color:#111;letter-spacing:-0.045em;">Matthew Pelfrey</div>
<svg class="i" style="left:603.8px;top:714.8px;" width="10.4" height="10.4" viewBox="0 0 10.4 10.4"><circle cx="4.1" cy="4.1" r="3.45" fill="none" stroke="#858585" stroke-width="1.25"/><path d="M6.7 6.7 L9.4 9.4" stroke="#858585" stroke-width="1.6" stroke-linecap="round"/></svg>
<div class="t" style="left:627px;top:713px;font-size:12px;color:#666;letter-spacing:-0.04em;">Tracking Status</div>
<div class="b" style="left:708px;top:709.5px;width:125px;height:18.0px;background:#fff;border-color:#c9c9c9;"></div>
<div class="t" style="left:711.5px;top:713px;font-size:12px;color:#111;letter-spacing:-0.02em;">Open Order</div>
<div class="t" style="left:843.5px;top:713px;font-size:12px;color:#666;letter-spacing:-0.04em;">Project Manager</div>
<div class="b" style="left:928.5px;top:709.5px;width:117.0px;height:18.0px;background:#fff;border-color:#c9c9c9;"></div>
<svg class="i" style="left:1034.3px;top:714.8px;" width="10.4" height="10.4" viewBox="0 0 10.4 10.4"><circle cx="4.1" cy="4.1" r="3.45" fill="none" stroke="#858585" stroke-width="1.25"/><path d="M6.7 6.7 L9.4 9.4" stroke="#858585" stroke-width="1.6" stroke-linecap="round"/></svg>
<div class="t" style="left:1056.5px;top:712px;font-size:13px;color:#1a7bc2;letter-spacing:-0.045em;">Cancel</div>
<div class="r" style="left:1110px;top:700px;width:64px;height:31.5px;background:#1c86d1;border-radius:0 0 4px 4px;"></div>
<div class="t" style="left:991.8px;width:300px;text-align:center;top:712px;font-size:13px;color:#fff;letter-spacing:-0.045em;">Save</div>
<div class="r" style="left:1203px;top:0px;width:13px;height:734px;background:#fafafa;"></div>
<div class="r" style="left:1203px;top:0px;width:1px;height:734px;background:#e6e6e6;"></div>
<div class="r" style="left:1206px;top:49px;width:7px;height:391px;background:#c1c1c1;border-radius:4px;"></div>
<div class="r" style="left:1216px;top:0px;width:59px;height:734px;background:#444;background:linear-gradient(90deg,#383838 0%,#4a4a4a 45%,#555 100%);"></div>
<div class="t" style="left:1217px;top:58px;font-size:11.5px;color:#f2f2f2;font-weight:bold;letter-spacing:0.02em;font-family:'Liberation Sans',sans-serif;text-shadow:0 1px 2px rgba(0,0,0,.6);">ptures</div>
<div class="t" style="left:1217px;top:170px;font-size:11.5px;color:#f2f2f2;font-weight:bold;letter-spacing:0.02em;font-family:'Liberation Sans',sans-serif;text-shadow:0 1px 2px rgba(0,0,0,.6);">ne</div>
<div class="t" style="left:1217px;top:240px;font-size:11.5px;color:#f2f2f2;font-weight:bold;letter-spacing:0.02em;font-family:'Liberation Sans',sans-serif;text-shadow:0 1px 2px rgba(0,0,0,.6);">3-18</div>
<div class="t" style="left:1217px;top:268px;font-size:11.5px;color:#f2f2f2;font-weight:bold;letter-spacing:0.02em;font-family:'Liberation Sans',sans-serif;text-shadow:0 1px 2px rgba(0,0,0,.6);">id</div>
<div class="t" style="left:1217px;top:380px;font-size:11.5px;color:#f2f2f2;font-weight:bold;letter-spacing:0.02em;font-family:'Liberation Sans',sans-serif;text-shadow:0 1px 2px rgba(0,0,0,.6);">ough</div>
<div class="r" style="left:1216px;top:451.5px;width:46px;height:11.5px;background:#8f8f8f;"></div>
<div class="t" style="left:1217px;top:451px;font-size:11.5px;color:#d8d8d8;font-weight:bold;letter-spacing:0.02em;font-family:'Liberation Sans',sans-serif;">narios</div>
<div class="r" style="left:1025px;top:462px;width:250px;height:250px;background:#fff;box-shadow:0 2px 6px rgba(0,0,0,.35);"></div>
<div class="r" style="left:1268px;top:462px;width:7px;height:250px;background:#eee;"></div>
<div class="t" style="left:1027px;top:464px;font-size:12px;color:#111;letter-spacing:0em;font-family:'DejaVu Sans Mono','Liberation Mono',monospace;">01001</div>
<div class="t" style="left:1145px;top:464px;font-size:12px;color:#111;letter-spacing:0em;font-family:'DejaVu Sans Mono','Liberation Mono',monospace;white-space:pre;">CA: Albany</div>
<div class="t" style="left:1027px;top:482px;font-size:12px;color:#111;letter-spacing:0em;font-family:'DejaVu Sans Mono','Liberation Mono',monospace;">01002</div>
<div class="t" style="left:1145px;top:482px;font-size:12px;color:#111;letter-spacing:0em;font-family:'DejaVu Sans Mono','Liberation Mono',monospace;white-space:pre;">CA: Emeryville</div>
<div class="t" style="left:1027px;top:500px;font-size:12px;color:#111;letter-spacing:0em;font-family:'DejaVu Sans Mono','Liberation Mono',monospace;">01003</div>
<div class="t" style="left:1145px;top:500px;font-size:12px;color:#111;letter-spacing:0em;font-family:'DejaVu Sans Mono','Liberation Mono',monospace;white-space:pre;">CA: Hayward</div>
<div class="t" style="left:1027px;top:517px;font-size:12px;color:#111;letter-spacing:0em;font-family:'DejaVu Sans Mono','Liberation Mono',monospace;">01004</div>
<div class="t" style="left:1145px;top:517px;font-size:12px;color:#111;letter-spacing:0em;font-family:'DejaVu Sans Mono','Liberation Mono',monospace;white-space:pre;">CA: Livermore</div>
<div class="t" style="left:1027px;top:535px;font-size:12px;color:#111;letter-spacing:0em;font-family:'DejaVu Sans Mono','Liberation Mono',monospace;">01005</div>
<div class="t" style="left:1145px;top:535px;font-size:12px;color:#111;letter-spacing:0em;font-family:'DejaVu Sans Mono','Liberation Mono',monospace;white-space:pre;">CA: Piedmont</div>
<div class="t" style="left:1027px;top:553px;font-size:12px;color:#111;letter-spacing:0em;font-family:'DejaVu Sans Mono','Liberation Mono',monospace;">01006</div>
<div class="t" style="left:1145px;top:553px;font-size:12px;color:#111;letter-spacing:0em;font-family:'DejaVu Sans Mono','Liberation Mono',monospace;white-space:pre;">CA: Pleasanton</div>
<div class="t" style="left:1027px;top:571px;font-size:12px;color:#111;letter-spacing:0em;font-family:'DejaVu Sans Mono','Liberation Mono',monospace;">01007</div>
<div class="t" style="left:1145px;top:571px;font-size:12px;color:#111;letter-spacing:0em;font-family:'DejaVu Sans Mono','Liberation Mono',monospace;white-space:pre;">CA: San Leandro</div>
<div class="t" style="left:1027px;top:589px;font-size:12px;color:#111;letter-spacing:0em;font-family:'DejaVu Sans Mono','Liberation Mono',monospace;">01008</div>
<div class="t" style="left:1145px;top:589px;font-size:12px;color:#111;letter-spacing:0em;font-family:'DejaVu Sans Mono','Liberation Mono',monospace;white-space:pre;">CA: Newark</div>
<div class="t" style="left:1027px;top:607px;font-size:12px;color:#111;letter-spacing:0em;font-family:'DejaVu Sans Mono','Liberation Mono',monospace;">01009</div>
<div class="t" style="left:1145px;top:607px;font-size:12px;color:#111;letter-spacing:0em;font-family:'DejaVu Sans Mono','Liberation Mono',monospace;white-space:pre;">CA: Fremont</div>
<div class="t" style="left:1027px;top:624px;font-size:12px;color:#111;letter-spacing:0em;font-family:'DejaVu Sans Mono','Liberation Mono',monospace;">01010</div>
<div class="t" style="left:1145px;top:624px;font-size:12px;color:#111;letter-spacing:0em;font-family:'DejaVu Sans Mono','Liberation Mono',monospace;white-space:pre;">CA: Alameda</div>
<div class="t" style="left:1027px;top:642px;font-size:12px;color:#111;letter-spacing:0em;font-family:'DejaVu Sans Mono','Liberation Mono',monospace;">01011</div>
<div class="t" style="left:1145px;top:642px;font-size:12px;color:#111;letter-spacing:0em;font-family:'DejaVu Sans Mono','Liberation Mono',monospace;white-space:pre;">CA: Union City</div>
<div class="t" style="left:1027px;top:660px;font-size:12px;color:#111;letter-spacing:0em;font-family:'DejaVu Sans Mono','Liberation Mono',monospace;">01013</div>
<div class="t" style="left:1145px;top:660px;font-size:12px;color:#111;letter-spacing:0em;font-family:'DejaVu Sans Mono','Liberation Mono',monospace;white-space:pre;">CA: Dublin</div>
<div class="t" style="left:1027px;top:678px;font-size:12px;color:#111;letter-spacing:0em;font-family:'DejaVu Sans Mono','Liberation Mono',monospace;">01020</div>
<div class="t" style="left:1145px;top:678px;font-size:12px;color:#111;letter-spacing:0em;font-family:'DejaVu Sans Mono','Liberation Mono',monospace;white-space:pre;">CA: Berkeley</div>
<div class="t" style="left:1027px;top:696px;font-size:12px;color:#111;letter-spacing:0em;font-family:'DejaVu Sans Mono','Liberation Mono',monospace;">01060</div>
<div class="t" style="left:1145px;top:696px;font-size:12px;color:#111;letter-spacing:0em;font-family:'DejaVu Sans Mono','Liberation Mono',monospace;white-space:pre;">CA: Oakland</div>
<svg class="i" style="left:0;top:0;overflow:visible" width="1275" height="734" viewBox="0 0 1275 734">
<defs><filter id="sh" x="-10%" y="-10%" width="120%" height="120%"><feGaussianBlur in="SourceAlpha" stdDeviation="1.6"/><feOffset dx="1.5" dy="2.5" result="o"/><feComponentTransfer><feFuncA type="linear" slope="0.75"/></feComponentTransfer><feMerge><feMergeNode/><feMergeNode in="SourceGraphic"/></feMerge></filter></defs>
<g filter="url(#sh)" fill="none" stroke="#e5453f" stroke-width="5.1">
<path d="M1086.1 426.3 H1194.8 A74 74 0 0 1 1268.8 500.3 V645.2 A62.5 62.5 0 0 1 1206.3 707.7 H1071.1 A56.5 56.5 0 0 1 1014.6 651.2 V497.8 A71.5 71.5 0 0 1 1086.1 426.3 Z"/>
<rect x="1074" y="427.3" width="90.8" height="30.4" rx="15.2" ry="15.2" stroke-width="4.8"/>
</g></svg>
</body></html>
